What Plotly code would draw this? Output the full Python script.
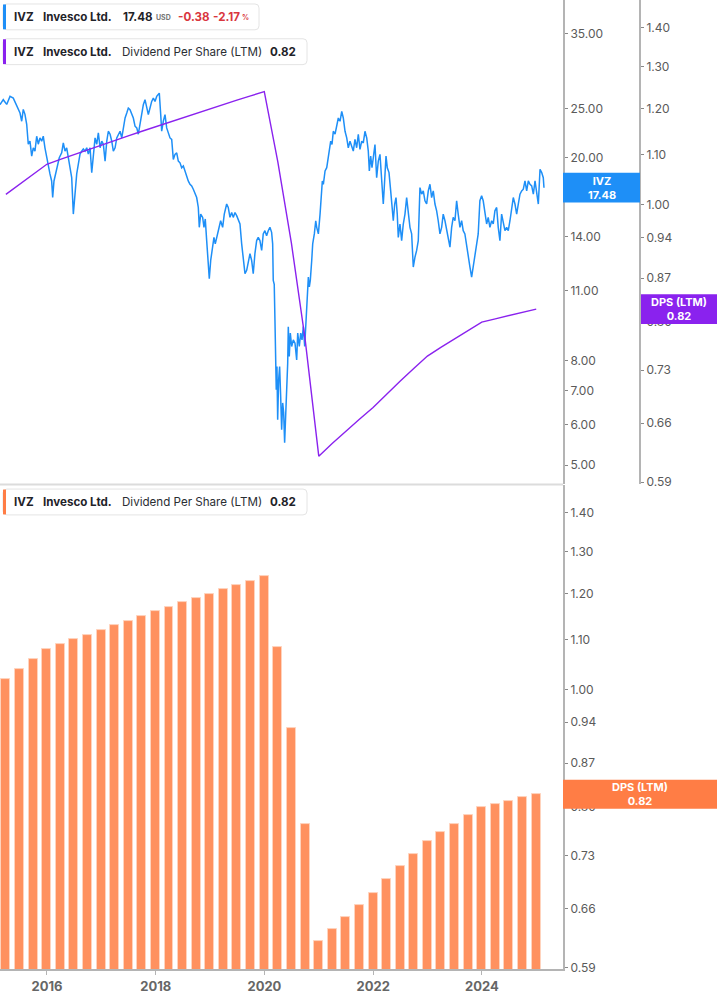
import math
import plotly.graph_objects as go
import pandas as pd

# ---------------- DATA ----------------
# IVZ price (decimal year, price)
price_t = [2015.136, 2015.196, 2015.259, 2015.320, 2015.380, 2015.443, 2015.504, 2015.535, 2015.564, 2015.595,
           2015.627, 2015.656, 2015.687, 2015.719, 2015.748, 2015.779, 2015.811, 2015.840, 2015.871, 2015.903,
           2015.932, 2015.963, 2015.994, 2016.024, 2016.055, 2016.086, 2016.105, 2016.129, 2016.160, 2016.190,
           2016.226, 2016.270, 2016.300, 2016.331, 2016.362, 2016.392, 2016.423, 2016.454, 2016.484, 2016.515,
           2016.546, 2016.576, 2016.607, 2016.638, 2016.667, 2016.699, 2016.730, 2016.759, 2016.791, 2016.822,
           2016.851, 2016.883, 2016.914, 2016.943, 2016.975, 2017.006, 2017.035, 2017.067, 2017.098, 2017.127,
           2017.159, 2017.190, 2017.219, 2017.251, 2017.282, 2017.311, 2017.343, 2017.374, 2017.403, 2017.435,
           2017.466, 2017.495, 2017.526, 2017.587, 2017.618, 2017.650, 2017.679, 2017.710, 2017.742, 2017.771,
           2017.802, 2017.834, 2017.863, 2017.894, 2017.925, 2017.955, 2017.986, 2018.017, 2018.047, 2018.065,
           2018.091, 2018.109, 2018.139, 2018.170, 2018.201, 2018.231, 2018.262, 2018.293, 2018.323, 2018.354,
           2018.385, 2018.415, 2018.446, 2018.477, 2018.507, 2018.538, 2018.569, 2018.598, 2018.630, 2018.661,
           2018.691, 2018.722, 2018.753, 2018.783, 2018.801, 2018.827, 2018.863, 2018.887, 2018.911, 2018.937,
           2018.966, 2018.985, 2019.011, 2019.047, 2019.071, 2019.095, 2019.132, 2019.169, 2019.194, 2019.231,
           2019.261, 2019.305, 2019.334, 2019.366, 2019.397, 2019.426, 2019.458, 2019.489, 2019.518, 2019.550,
           2019.581, 2019.610, 2019.642, 2019.673, 2019.702, 2019.734, 2019.765, 2019.794, 2019.825, 2019.857,
           2019.886, 2019.917, 2019.949, 2019.978, 2020.009, 2020.040, 2020.070, 2020.101, 2020.132, 2020.151,
           2020.162, 2020.180, 2020.193, 2020.206, 2020.217, 2020.230, 2020.243, 2020.261, 2020.279, 2020.298,
           2020.316, 2020.335, 2020.353, 2020.371, 2020.390, 2020.408, 2020.427, 2020.438, 2020.456, 2020.475,
           2020.500, 2020.530, 2020.561, 2020.592, 2020.611, 2020.640, 2020.666, 2020.690, 2020.714, 2020.739,
           2020.763, 2020.787, 2020.806, 2020.824, 2020.842, 2020.868, 2020.886, 2020.916, 2020.942, 2020.960,
           2020.990, 2021.021, 2021.045, 2021.063, 2021.082, 2021.113, 2021.144, 2021.173, 2021.192, 2021.217,
           2021.241, 2021.265, 2021.297, 2021.328, 2021.357, 2021.389, 2021.420, 2021.449, 2021.481, 2021.512,
           2021.541, 2021.572, 2021.603, 2021.633, 2021.664, 2021.695, 2021.725, 2021.756, 2021.788, 2021.817,
           2021.848, 2021.880, 2021.909, 2021.928, 2021.953, 2021.977, 2022.001, 2022.032, 2022.063, 2022.093,
           2022.124, 2022.155, 2022.185, 2022.203, 2022.235, 2022.259, 2022.290, 2022.321, 2022.351, 2022.369,
           2022.395, 2022.419, 2022.442, 2022.461, 2022.492, 2022.523, 2022.553, 2022.584, 2022.615, 2022.645,
           2022.676, 2022.707, 2022.737, 2022.768, 2022.799, 2022.829, 2022.860, 2022.891, 2022.921, 2022.952,
           2022.983, 2023.013, 2023.044, 2023.075, 2023.105, 2023.136, 2023.167, 2023.196, 2023.228, 2023.259,
           2023.288, 2023.320, 2023.351, 2023.380, 2023.412, 2023.443, 2023.472, 2023.504, 2023.535, 2023.564,
           2023.596, 2023.627, 2023.656, 2023.687, 2023.719, 2023.748, 2023.780, 2023.811, 2023.840, 2023.871,
           2023.903, 2023.932, 2023.963, 2023.995, 2024.024, 2024.055, 2024.087, 2024.116, 2024.147, 2024.179,
           2024.208, 2024.239, 2024.271, 2024.300, 2024.331, 2024.362, 2024.392, 2024.423, 2024.454, 2024.484,
           2024.515, 2024.546, 2024.576, 2024.607, 2024.638, 2024.668, 2024.699, 2024.730, 2024.760, 2024.791,
           2024.822, 2024.852, 2024.883, 2024.914, 2024.944, 2024.975, 2025.006, 2025.036, 2025.067, 2025.098,
           2025.127, 2025.140]
price_v = [25.42, 26.00, 25.45, 26.39, 26.19, 25.23, 24.48, 23.59, 24.89, 24.34,
           23.27, 21.27, 21.56, 20.16, 20.93, 20.62, 22.05, 21.27, 21.88, 21.56,
           22.05, 20.93, 20.01, 19.45, 18.60, 18.02, 16.72, 18.02, 18.60, 19.13,
           20.01, 20.46, 21.40, 20.62, 20.93, 20.01, 19.13, 18.29, 15.52, 17.23,
           18.60, 19.45, 20.34, 20.62, 20.81, 20.62, 20.93, 20.34, 20.93, 18.71,
           20.01, 21.88, 21.27, 22.38, 20.93, 21.56, 21.27, 19.71, 21.56, 22.55,
           22.25, 21.56, 20.62, 20.93, 21.88, 22.25, 22.55, 21.88, 22.89, 23.94,
           24.48, 25.04, 24.86, 23.94, 23.07, 22.89, 22.25, 23.24, 24.67, 25.42,
           26.00, 25.23, 24.31, 25.04, 25.80, 26.19, 25.80, 26.39, 26.59, 26.78,
           24.31, 22.55, 23.59, 24.31, 22.89, 22.25, 21.88, 21.73, 19.86, 20.32,
           20.46, 19.71, 19.56, 19.13, 19.28, 18.85, 18.29, 18.02, 17.75, 17.62,
           17.36, 16.98, 16.72, 15.99, 14.62, 15.52, 15.29, 14.62, 15.18, 13.77,
           12.59, 11.60, 12.59, 13.37, 13.97, 13.57, 14.19, 14.62, 15.06, 14.62,
           15.52, 16.24, 15.99, 15.29, 15.63, 15.29, 15.63, 15.41, 15.06, 14.84,
           13.57, 12.59, 11.86, 12.04, 12.59, 12.98, 12.59, 11.86, 12.98, 13.77,
           13.97, 13.77, 13.17, 14.19, 14.40, 14.08, 14.40, 14.62, 14.29, 13.57,
           11.51, 11.30, 9.62, 7.92, 7.03, 7.80, 6.14, 7.35, 7.80, 6.82,
           5.87, 6.62, 6.34, 5.53, 6.34, 6.82, 7.92, 9.34, 8.16, 9.07,
           8.54, 8.80, 8.67, 8.04, 9.07, 8.54, 9.07, 8.80, 9.34, 8.54,
           9.62, 10.85, 11.68, 11.17, 11.51, 12.59, 13.57, 14.19, 15.06, 14.62,
           14.19, 15.52, 16.72, 18.02, 17.75, 18.85, 19.13, 20.01, 20.93, 21.56,
           21.24, 22.55, 22.25, 23.24, 23.94, 23.59, 24.67, 23.94, 22.55, 21.88,
           20.93, 21.56, 21.09, 20.62, 21.73, 20.93, 22.25, 20.78, 21.56, 21.40,
           22.55, 21.88, 20.62, 18.85, 20.16, 19.13, 20.01, 21.24, 18.29, 19.71,
           20.32, 18.29, 16.24, 17.49, 20.16, 19.13, 18.71, 17.23, 15.99, 15.06,
           16.24, 16.72, 15.52, 13.97, 14.84, 13.77, 14.84, 15.52, 16.72, 15.75,
           14.62, 14.19, 12.22, 12.78, 13.17, 13.77, 17.49, 16.98, 17.23, 16.48,
           16.24, 17.23, 17.75, 16.72, 17.23, 16.24, 15.75, 15.06, 14.19, 14.62,
           15.52, 15.06, 14.40, 13.77, 13.37, 14.62, 15.29, 15.06, 16.48, 15.52,
           14.62, 15.06, 14.40, 14.19, 13.57, 12.78, 12.22, 11.68, 12.22, 12.78,
           13.37, 14.19, 16.48, 16.85, 16.48, 15.52, 14.84, 15.29, 14.62, 15.06,
           14.84, 15.75, 15.99, 14.62, 13.77, 15.52, 14.84, 14.40, 14.62, 14.40,
           15.06, 15.99, 16.72, 16.24, 15.52, 16.24, 16.98, 17.23, 17.36, 18.02,
           17.23, 18.02, 17.75, 17.62, 16.98, 18.02, 16.98, 16.24, 19.00, 18.71,
           18.29, 17.48]

# Dividend per share (LTM), quarterly
dps_dates = [f"{y}-{md}" for y in range(2015, 2025)
             for md in ("03-31", "06-30", "09-30", "12-31")]
dps_values = [1.02, 1.04, 1.06, 1.08, 1.09, 1.10, 1.11, 1.12, 1.13, 1.14,
              1.15, 1.16, 1.17, 1.18, 1.19, 1.20, 1.21, 1.22, 1.23, 1.24,
              1.085, 0.93, 0.775, 0.62, 0.635, 0.65, 0.665, 0.68, 0.6975, 0.715,
              0.7325, 0.75, 0.7625, 0.775, 0.7875, 0.80, 0.805, 0.81, 0.815, 0.82]

price_ticks = [5, 6, 7, 8, 11, 14, 20, 25, 35]
dps_ticks = [0.59, 0.66, 0.73, 0.80, 0.87, 0.94, 1.00, 1.10, 1.20, 1.30, 1.40]
year_ticks = ["2016-01-01", "2018-01-01", "2020-01-01", "2022-01-01", "2024-01-01"]

last_price = 17.48
last_change = -0.38
last_change_pct = -2.17
last_dps = 0.82


def yr_to_date(t):
    y = int(t)
    s = pd.Timestamp(year=y, month=1, day=1)
    e = pd.Timestamp(year=y + 1, month=1, day=1)
    return s + (e - s) * (t - y)


price_dates = [yr_to_date(t) for t in price_t]

# ---------------- STYLE ----------------
W, H = 717, 1005
BLUE = "#1e8ff7"
PURPLE = "#8a22ee"
ORANGE_BAR = "#ff915f"
ORANGE_BOX = "#ff7d45"
RED = "#d9363e"
TXT = "#1f2329"
AXC = "#b4b4b4"
TICKC = "#5a5a5a"
FONT = "Inter"
LFS = 11.6  # legend font size


def PX(x):
    return x / W


def PY(y):
    return 1 - y / H


x_right = 563
top_dom = [PY(487), 1.0]
bot_dom = [PY(975), PY(488)]
x_range = [yr_to_date(2015.1356), yr_to_date(2025.490)]

price_range = [0.661892, 1.610285]
dps_top_range = [-0.23069, 0.16911]
dps_bot_range = [-0.23038, 0.168664]

fig = go.Figure()

fig.add_trace(go.Scatter(x=price_dates, y=price_v, mode="lines",
                         line=dict(color=BLUE, width=1.5), xaxis="x", yaxis="y",
                         showlegend=False, hoverinfo="skip"))
fig.add_trace(go.Scatter(x=pd.to_datetime(dps_dates), y=dps_values, mode="lines",
                         line=dict(color=PURPLE, width=1.4), xaxis="x", yaxis="y2",
                         showlegend=False, hoverinfo="skip"))
fig.add_trace(go.Bar(x=pd.to_datetime(dps_dates), y=dps_values, xaxis="x2", yaxis="y3",
                     marker=dict(color=ORANGE_BAR, line=dict(color="#ffd3bd", width=1)),
                     width=60 * 86400000, showlegend=False, hoverinfo="skip"))

tickfont = dict(family=FONT, size=12, color=TICKC)
common_y = dict(type="log", showgrid=False, zeroline=False, ticks="outside", ticklen=3,
                tickcolor="#888", tickwidth=1, showline=True, linecolor=AXC, linewidth=2,
                tickfont=tickfont, ticklabelstandoff=0)

fig.update_layout(
    width=W, height=H,
    margin=dict(l=0, r=0, t=0, b=0),
    paper_bgcolor="white", plot_bgcolor="white",
    font=dict(family=FONT, color=TXT),
    bargap=0,
    xaxis=dict(domain=[0, PX(x_right)], range=x_range, type="date", anchor="y",
               showticklabels=False, showgrid=False, showline=False, zeroline=False, ticks=""),
    xaxis2=dict(domain=[0, PX(x_right)], range=x_range, type="date", anchor="y3",
                matches="x", showgrid=False, zeroline=False, showline=True, linecolor=AXC,
                linewidth=2, ticks="outside", ticklen=4, tickcolor=AXC, tickvals=year_ticks,
                ticktext=[y[:4] for y in year_ticks],
                tickfont=dict(family=FONT, size=13, color="#666666", weight="bold")),
    yaxis=dict(common_y, domain=top_dom, anchor="x", side="right",
               range=price_range, tickvals=price_ticks,
               ticktext=[f"{v:.2f}" for v in price_ticks]),
    yaxis2=dict(common_y, overlaying="y", anchor="free", side="right", position=PX(640),
                range=dps_top_range, tickvals=dps_ticks,
                ticktext=[f"{v:.2f}" for v in dps_ticks]),
    yaxis3=dict(common_y, domain=bot_dom, anchor="x2", side="right",
                range=dps_bot_range, tickvals=dps_ticks,
                ticktext=[f"{v:.2f}" for v in dps_ticks]),
)

shapes = []
annotations = []

# separator between panels
shapes.append(dict(type="line", xref="paper", yref="paper", x0=0, x1=PX(x_right),
                   y0=PY(487.5), y1=PY(487.5), line=dict(color="#dcdcdc", width=2)))


def rounded_box(x0, y0, x1, y1, r=4):
    X0, X1 = PX(x0), PX(x1)
    Y0, Y1 = PY(y0), PY(y1)
    rx, ry = r / W, r / H
    return (f"M {X0+rx},{Y0} L {X1-rx},{Y0} Q {X1},{Y0} {X1},{Y0-ry} "
            f"L {X1},{Y1+ry} Q {X1},{Y1} {X1-rx},{Y1} L {X0+rx},{Y1} "
            f"Q {X0},{Y1} {X0},{Y1+ry} L {X0},{Y0-ry} Q {X0},{Y0} {X0+rx},{Y0} Z")


def legend_box(y0, y1, x1, color):
    shapes.append(dict(type="path", xref="paper", yref="paper", path=rounded_box(3, y0, x1, y1),
                       fillcolor="white", line=dict(color="#e4e4e4", width=1)))
    shapes.append(dict(type="rect", xref="paper", yref="paper", x0=PX(3), x1=PX(6),
                       y0=PY(y0 + 0.5), y1=PY(y1 - 0.5), fillcolor=color, line=dict(width=0)))


def txt(x, y, text, size=LFS, color=TXT, bold=False):
    annotations.append(dict(xref="paper", yref="paper", x=PX(x), y=PY(y), xanchor="left",
                            yanchor="middle", showarrow=False, text=text,
                            font=dict(family=FONT, size=size, color=color,
                                      weight="bold" if bold else "normal")))


# legend 1 : price
legend_box(4, 30, 259, BLUE)
txt(12, 17, "IVZ", bold=True)
txt(41, 17, "Invesco Ltd.", bold=True)
txt(121, 17, f"{last_price:.2f}", bold=True)
txt(154, 18, "USD", size=7, color="#777", bold=True)
txt(176, 17, f"{last_change:.2f}", color=RED, bold=True)
txt(211, 17, f"{last_change_pct:.2f}", color=RED, bold=True)
txt(240, 18, "%", size=7, color=RED, bold=True)

# legend 2 : DPS line
legend_box(39, 65, 307, PURPLE)
txt(12, 52, "IVZ", bold=True)
txt(41, 52, "Invesco Ltd.", bold=True)
txt(120, 52, "Dividend Per Share (LTM)", color="#2a2e33")
txt(268, 52, f"{last_dps:.2f}", bold=True)

# legend 3 : DPS bars
legend_box(492, 518, 307, ORANGE_BOX)
txt(12, 505, "IVZ", bold=True)
txt(41, 505, "Invesco Ltd.", bold=True)
txt(120, 505, "Dividend Per Share (LTM)", color="#2a2e33")
txt(268, 505, f"{last_dps:.2f}", bold=True)

# last value badges: placed at the value's position on its (log) axis
badge_font = dict(family=FONT, size=11, color="white", weight="bold")


def badge(value, rng, dom, x0, x1, half_px, text, color):
    frac = (math.log10(value) - rng[0]) / (rng[1] - rng[0])
    yc = dom[0] + frac * (dom[1] - dom[0])
    half = half_px / H
    shapes.append(dict(type="rect", xref="paper", yref="paper", x0=PX(x0), x1=PX(x1),
                       y0=yc - half, y1=yc + half, fillcolor=color, line=dict(width=0),
                       layer="above"))
    annotations.append(dict(xref="paper", yref="paper", x=PX((x0 + x1) / 2), y=yc,
                            xanchor="center", yanchor="middle", showarrow=False,
                            text=text, font=badge_font, align="center"))


badge(last_price, price_range, top_dom, 563, 640, 15, f"IVZ<br>{last_price:.2f}", BLUE)
badge(last_dps, dps_top_range, top_dom, 641, 717, 15, f"DPS (LTM)<br>{last_dps:.2f}", PURPLE)
badge(last_dps, dps_bot_range, bot_dom, 563, 717, 14.5, f"DPS (LTM)<br>{last_dps:.2f}", ORANGE_BOX)

fig.update_layout(shapes=shapes, annotations=annotations)
fig.write_html("out.html", config={"displayModeBar": False},
               post_script="document.body.style.margin='0';")
